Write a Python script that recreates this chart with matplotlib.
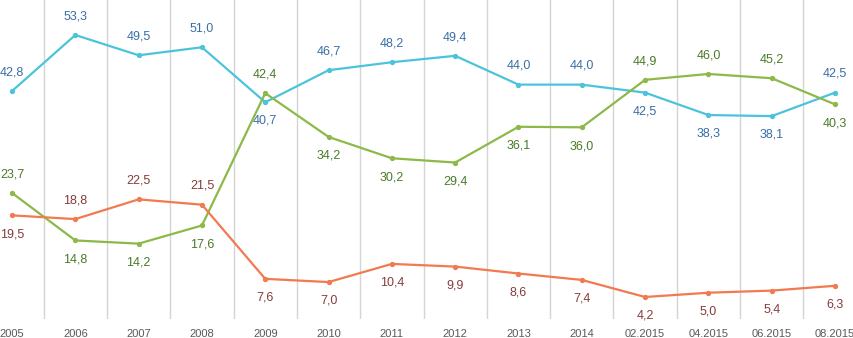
import matplotlib
matplotlib.use("Agg")
import matplotlib.pyplot as plt

# data
periods = ["2005", "2006", "2007", "2008", "2009", "2010", "2011", "2012", "2013",
           "2014", "02.2015", "04.2015", "06.2015", "08.2015"]
blue = [42.8, 53.3, 49.5, 51.0, 40.7, 46.7, 48.2, 49.4, 44.0, 44.0, 42.5, 38.3, 38.1, 42.5]
green = [23.7, 14.8, 14.2, 17.6, 42.4, 34.2, 30.2, 29.4, 36.1, 36.0, 44.9, 46.0, 45.2, 40.3]
orange = [19.5, 18.8, 22.5, 21.5, 7.6, 7.0, 10.4, 9.9, 8.6, 7.4, 4.2, 5.0, 5.4, 6.3]

# label placement: 1 above, -1 below
blue_pos = [1, 1, 1, 1, -1, 1, 1, 1, 1, 1, -1, -1, -1, 1]
green_pos = [1, -1, -1, -1, 1, -1, -1, -1, -1, -1, 1, 1, 1, -1]
orange_pos = [-1, 1, 1, 1, -1, -1, -1, -1, -1, -1, -1, -1, -1, -1]

plt.rcParams['font.family'] = ['Liberation Sans', 'DejaVu Sans']

fig = plt.figure(figsize=(8.54, 3.38), dpi=100)
ax = fig.add_axes([0, 0.055, 1, 0.945])

x = list(range(len(periods)))
for i in range(len(periods) - 1):
    ax.axvline(i + 0.5, color="#d4d4d4", lw=1, zorder=0)

series = [
    (blue, blue_pos, "#4cc3dc", "#3a6ea5"),
    (green, green_pos, "#8cb947", "#4a7a28"),
    (orange, orange_pos, "#f27a50", "#843c3c"),
]
for vals, pos, lc, tc in series:
    ax.plot(x, vals, color=lc, lw=1.6, marker="o", ms=2.8, zorder=3)
    for xi, v, p in zip(x, vals, pos):
        ax.annotate(f"{v:.1f}".replace(".", ","), (xi, v), xytext=(0, 13.5 * p),
                    textcoords="offset points", ha="center", va="center",
                    color=tc, fontsize=9)

ax.set_xlim(-0.19, 13.30)
ax.set_ylim(0, 59.86)
ax.set_yticks([])
ax.set_xticks(x)
ax.set_xticklabels(periods, fontsize=8, color="#595959")
ax.tick_params(axis="x", length=0, pad=7)
for s in ax.spines.values():
    s.set_visible(False)

fig.savefig("out.png", dpi=100)
